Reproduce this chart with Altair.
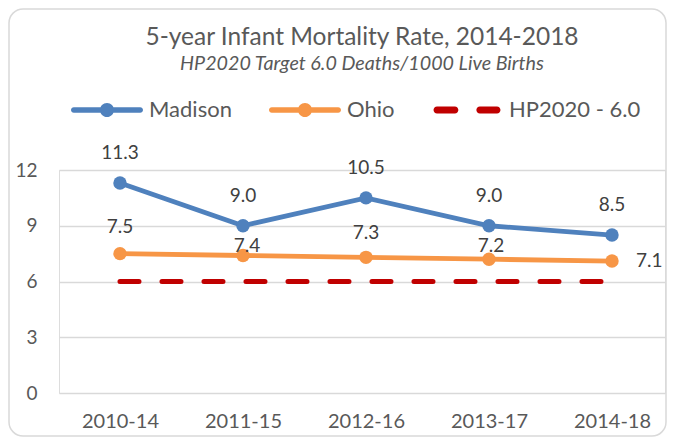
import json
import altair as alt
import pandas as pd

periods = ["2010-14", "2011-15", "2012-16", "2013-17", "2014-18"]
madison = [11.3, 9.0, 10.5, 9.0, 8.5]
ohio = [7.5, 7.4, 7.3, 7.2, 7.1]
target = [6.0, 6.0, 6.0, 6.0, 6.0]
series_names = ["Madison", "Ohio", "HP2020 - 6.0"]
series_colors = ["#4F81BD", "#F79646", "#C00000"]
y_ticks = [0, 3, 6, 9, 12]

FONT = "Lato"
TXT = "#595959"
W = 606
H = 223

rows = []
for p, v in zip(periods, madison):
    rows.append({"period": p, "series": "Madison", "value": v})
for p, v in zip(periods, ohio):
    rows.append({"period": p, "series": "Ohio", "value": v})
df = pd.DataFrame(rows)
df_t = pd.DataFrame({"period": periods, "series": "HP2020 - 6.0", "value": target})

x_enc = alt.X("period:N", sort=periods, title=None,
              scale=alt.Scale(type="point", padding=0.4634, align=0.535),
              axis=alt.Axis(labelAngle=0, domain=False, ticks=False, labelPadding=18,
                            labelFontSize=20, labelColor=TXT, labelFont=FONT))
y_enc = alt.Y("value:Q", title=None, scale=alt.Scale(domain=[0, 12], nice=False),
              axis=alt.Axis(values=y_ticks, domain=False, ticks=False, labelPadding=22,
                            labelFontSize=19, labelColor=TXT, labelFont=FONT,
                            grid=True, gridColor="#D9D9D9", gridWidth=1.5))
color_scale = alt.Scale(domain=series_names, range=series_colors)


def pill(x1, x2, h):
    a = x1 + h
    b = x2 - h
    return (f"M{a:.3f},{-h:.3f}H{b:.3f}A{h:.3f},{h:.3f} 0 0 1 {b:.3f},{h:.3f}"
            f"H{a:.3f}A{h:.3f},{h:.3f} 0 0 1 {a:.3f},{-h:.3f}Z")


r = 0.195
line_sym = (pill(-1, 1, 0.078) +
            f" M{r},0A{r},{r} 0 1 1 -{r},0A{r},{r} 0 1 1 {r},0Z")
dash_sym = pill(-0.93, -0.24, 0.097) + " " + pill(0.26, 0.93, 0.097)

leg = alt.Legend(title=None, orient="none", legendX=12, legendY=-96,
                 direction="horizontal", symbolSize=5184,
                 symbolStrokeWidth=0, symbolOpacity=1,
                 labelFontSize=22, labelFont=FONT, labelColor=TXT,
                 labelOffset=6, columnPadding=36, padding=0)
shape_scale = alt.Scale(domain=series_names, range=[line_sym, line_sym, dash_sym])

base = alt.Chart(df)

lines = base.mark_line(strokeWidth=4.8).encode(
    x=x_enc, y=y_enc, color=alt.Color("series:N", scale=color_scale, legend=leg))
points = base.mark_point(filled=True, size=180, opacity=1).encode(
    x="period:N", y="value:Q", color=alt.Color("series:N", scale=color_scale, legend=leg))

target_line = alt.Chart(df_t).mark_line(strokeWidth=5, strokeDash=[19, 23],
                                        strokeCap="round", color="#C00000").encode(
    x=alt.X("period:N", sort=periods), y="value:Q")


def labels(series, cats, dx=0, dy=0, align="center"):
    expr = f"datum.series == '{series}' && indexof({json.dumps(cats)}, datum.period) >= 0"
    return base.transform_filter(expr).mark_text(
        fontSize=19, font=FONT, color="#404040", dx=dx, dy=dy, align=align,
        baseline="middle").encode(
        x="period:N", y="value:Q", text=alt.Text("value:Q", format=".1f"))


lab_m = labels("Madison", periods, dy=-30)
lab_o1 = labels("Ohio", ["2010-14"], dy=-27)
lab_o2 = labels("Ohio", ["2011-15"], dx=4, dy=-9)
lab_o3 = labels("Ohio", ["2012-16"], dy=-24)
lab_o4 = labels("Ohio", ["2013-17"], dx=2, dy=-13)
lab_o5 = labels("Ohio", ["2014-18"], dx=24, align="left")

legend_layer = alt.Chart(df_t).transform_filter("false").mark_point(filled=True).encode(
    x="period:N", y="value:Q",
    color=alt.Color("series:N", scale=color_scale, legend=leg),
    shape=alt.Shape("series:N", scale=shape_scale, legend=leg),
)

border = alt.Chart(alt.Data(values=[{}])).mark_rect(
    fill=None, stroke="#D9D9D9", strokeWidth=1.5, cornerRadius=14).encode(
    x=alt.value(-50), x2=alt.value(W + 1), y=alt.value(-161), y2=alt.value(H + 43))

chart = alt.layer(border, lines, target_line, points, lab_m, lab_o1, lab_o2, lab_o3,
                  lab_o4, lab_o5, legend_layer).properties(
    width=W, height=H,
    padding={"left": 51, "top": 162, "right": 2, "bottom": 44},
    autosize=alt.AutoSizeParams(type="none"),
    title=alt.TitleParams(text="5-year Infant Mortality Rate, 2014-2018",
                          subtitle="HP2020 Target 6.0 Deaths/1000 Live Births",
                          font=FONT, fontSize=24.5, fontWeight="normal", color=TXT,
                          subtitleFont=FONT, subtitleFontSize=19.7, subtitleFontStyle="italic",
                          subtitleColor=TXT, subtitlePadding=3, anchor="middle", offset=-66)
).configure_view(stroke=None).configure(background="white")

chart.save("out.html", embed_options={"renderer": "svg", "actions": False})
